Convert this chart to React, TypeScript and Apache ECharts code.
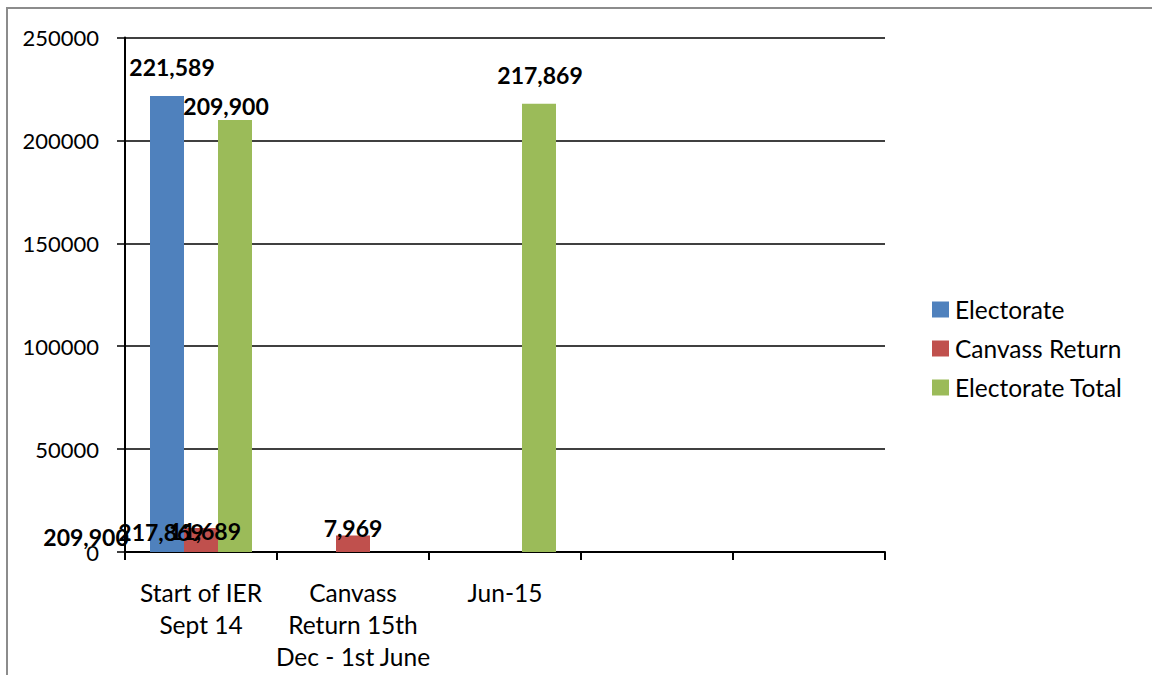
import React, { useEffect, useRef } from "react";
import * as echarts from "echarts";

const categories = [
  "Start of IER\nSept 14",
  "Canvass\nReturn 15th\nDec - 1st June",
  "Jun-15",
  "",
  "",
];
const seriesNames = ["Electorate", "Canvass Return", "Electorate Total"];
const electorate = [221589, null, null, null, null];
const canvassReturn = [11689, 7969, null, null, null];
const electorateTotal = [209900, null, 217869, null, null];
// stray overlapping data labels seen at the baseline of the first category
const strayLabels = [209900, 217869];
const yTicks = { min: 0, max: 250000, interval: 50000 };

const colors = ["#4f81bd", "#c0504d", "#9bbb59"];
const FONT = "Lato, 'Liberation Sans', sans-serif";

const fmt = (v: number) => v.toLocaleString("en-US");

// label offsets (style only)
const electorateOffsets = [[5, -12]];
const canvassOffsets = [[4, 20], [0, 9]];
const totalOffsets = [[-9, 2], null, [1, -12]];
const strayOffsets = [[-115, -3], [-40, -8]];

function buildData(values: (number | null)[], offsets: (number[] | null)[]) {
  return values.map((v, i) => {
    if (v == null) return null;
    const off = offsets[i] || [0, 0];
    return { value: v, label: { offset: off } };
  });
}

export default function App() {
  const ref = useRef<HTMLDivElement>(null);
  useEffect(() => {
    if (!ref.current) return;
    const chart = echarts.init(ref.current, null, { renderer: "svg" });
    const barLabel = {
      show: true,
      position: "top",
      distance: 5,
      color: "#000",
      fontWeight: "bold",
      fontSize: 23,
      fontFamily: FONT,
      formatter: (p: any) => fmt(p.value),
    };
    chart.setOption({
      animation: false,
      backgroundColor: "#fff",
      textStyle: { fontFamily: FONT },
      graphic: [
        {
          type: "rect",
          shape: { x: 7, y: 8, width: 1300, height: 800 },
          style: { fill: "none", stroke: "#8c8c8c", lineWidth: 2 },
          silent: true,
          z: -10,
        },
      ],
      grid: { left: 125, right: 267, top: 37.5, bottom: 123, containLabel: false },
      legend: {
        orient: "vertical",
        left: 932,
        top: 297,
        padding: 0,
        itemWidth: 17,
        itemHeight: 16,
        itemGap: 14,
        icon: "rect",
        data: seriesNames,
        textStyle: {
          fontSize: 24.5,
          color: "#000",
          fontFamily: FONT,
          padding: [0, 0, 0, 1],
        },
      },
      xAxis: {
        type: "category",
        data: categories,
        boundaryGap: true,
        axisLine: { show: true, lineStyle: { color: "#000", width: 2 } },
        axisTick: { show: true, length: 8, interval: 0, lineStyle: { color: "#000", width: 2 } },
        axisLabel: {
          interval: 0,
          margin: 24,
          fontSize: 24.5,
          lineHeight: 32,
          color: "#000",
          fontFamily: FONT,
        },
        splitLine: { show: false },
      },
      yAxis: {
        type: "value",
        min: yTicks.min,
        max: yTicks.max,
        interval: yTicks.interval,
        axisLine: { show: true, lineStyle: { color: "#000", width: 2 } },
        axisTick: { show: true, length: 8, lineStyle: { color: "#000", width: 1.5 } },
        axisLabel: {
          margin: 26,
          fontSize: 22,
          color: "#000",
          fontFamily: FONT,
          formatter: (v: number) => String(v),
        },
        splitLine: { show: true, lineStyle: { color: "#000", width: 1.5 } },
      },
      series: [
        {
          name: "stray",
          type: "scatter",
          data: strayLabels.map((v) => [0, 0, v]),
          symbolSize: 0.1,
          itemStyle: { color: "rgba(0,0,0,0)" },
          silent: true,
          z: 5,
          label: {
            show: true,
            position: "top",
            distance: 0,
            color: "#000",
            opacity: 1,
            fontWeight: "bold",
            fontSize: 23,
            fontFamily: FONT,
            formatter: (p: any) => fmt(p.value[2]),
          },
          labelLayout: (p: any) => {
            const off = strayOffsets[p.dataIndex];
            return { dx: off[0], dy: off[1] };
          },
        },
        {
          name: seriesNames[0],
          type: "bar",
          barWidth: 34,
          barGap: "0%",
          itemStyle: { color: colors[0] },
          data: buildData(electorate, electorateOffsets),
          label: barLabel,
        },
        {
          name: seriesNames[1],
          type: "bar",
          barWidth: 34,
          barGap: "0%",
          itemStyle: { color: colors[1] },
          data: buildData(canvassReturn, canvassOffsets),
          label: barLabel,
        },
        {
          name: seriesNames[2],
          type: "bar",
          barWidth: 34,
          barGap: "0%",
          itemStyle: { color: colors[2] },
          data: buildData(electorateTotal, totalOffsets),
          label: barLabel,
        },
      ],
    });
    return () => chart.dispose();
  }, []);
  return (
    <div
      ref={ref}
      style={{ position: "absolute", left: 0, top: 0, width: 1152, height: 675 }}
    />
  );
}
